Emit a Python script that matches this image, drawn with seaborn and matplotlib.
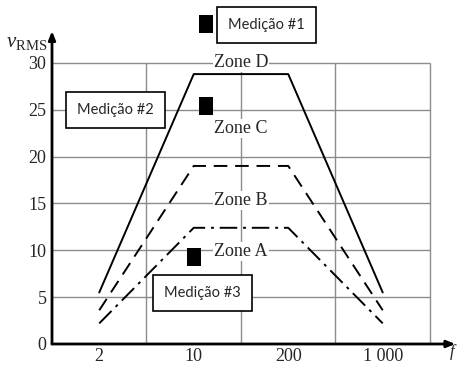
import numpy as np
import pandas as pd
import seaborn as sns
import matplotlib.pyplot as plt

# category positions on the (non-linear) frequency axis
freq_pos = [0.5, 1.5, 2.5, 3.5]
freq_labels = ["2", "10", "200", "1 000"]
grid_x = [1, 2, 3, 4]
grid_y = [5, 10, 15, 20, 25, 30]

# zone boundaries (v_RMS)
zone_cd = [5.5, 28.8, 28.8, 5.5]   # solid
zone_bc = [3.6, 19.0, 19.0, 3.6]   # dashed
zone_ab = [2.2, 12.4, 12.4, 2.2]   # dash-dot

zone_names = ["Zone D", "Zone C", "Zone B", "Zone A"]
zone_label_y = [29.6, 22.5, 14.8, 9.4]   # baselines

# measurements
meas_names = ["Medição #1", "Medição #2", "Medição #3"]
meas_x = [1.63, 1.63, 1.50]
meas_y = [34.1, 25.4, 9.3]
meas_box_x = [2.27, 0.67, 1.59]
meas_box_y = [34.0, 25.0, 5.4]

sns.set_style("white")
plt.rcParams["font.family"] = ["Liberation Serif", "DejaVu Serif"]
plt.rcParams["mathtext.fontset"] = "custom"
plt.rcParams["mathtext.rm"] = "Liberation Serif"
plt.rcParams["mathtext.it"] = "Liberation Serif:italic"

fig = plt.figure(figsize=(4.58, 3.67), dpi=100)
ax = fig.add_axes([52 / 458, 23 / 367, (455 - 52) / 458, (344 - 1) / 367])
ax.set_xlim(0, 4.265)
ax.set_ylim(0, 36.6)

grey = "#8c8c8c"
ax.hlines(grid_y, 0, grid_x[-1], color=grey, lw=1.0, zorder=1)
ax.vlines(grid_x, 0, grid_y[-1], color=grey, lw=1.0, zorder=1)

df = pd.DataFrame({"f": freq_pos, "cd": zone_cd, "bc": zone_bc, "ab": zone_ab})
sns.lineplot(data=df, x="f", y="cd", color="black", lw=1.4, sort=False, ax=ax, zorder=3)
sns.lineplot(data=df, x="f", y="bc", color="black", lw=1.4, sort=False, ax=ax, zorder=3,
             linestyle=(0, (7, 4)))
sns.lineplot(data=df, x="f", y="ab", color="black", lw=1.4, sort=False, ax=ax, zorder=3,
             linestyle=(0, (9, 3, 1.5, 3)))

for name, y in zip(zone_names, zone_label_y):
    ax.text(2.0, y, name, ha="center", va="baseline", fontsize=13, zorder=4,
            bbox=dict(facecolor="white", edgecolor="none", pad=0.8))

rect = [(-0.38, -0.5), (0.38, -0.5), (0.38, 0.5), (-0.38, 0.5)]
sns.scatterplot(x=meas_x, y=meas_y, marker=rect, s=170, color="black",
                edgecolor="none", ax=ax, zorder=5, clip_on=False)

for name, x, y in zip(meas_names, meas_box_x, meas_box_y):
    ax.text(x, y, name, ha="center", va="center", fontsize=10.5, family="Lato",
            zorder=6, bbox=dict(boxstyle="square,pad=0.75", facecolor="white",
                                edgecolor="black", lw=1.2))

# axes with arrows
for s in ax.spines.values():
    s.set_visible(False)
ax.annotate("", xy=(0, 33.4), xytext=(0, 0),
            arrowprops=dict(arrowstyle="-|>,head_length=0.5,head_width=0.2",
                            color="black", lw=2, shrinkA=0, shrinkB=0), zorder=7)
ax.annotate("", xy=(4.27, 0), xytext=(0, 0),
            arrowprops=dict(arrowstyle="-|>,head_length=0.5,head_width=0.2",
                            color="black", lw=2, shrinkA=0, shrinkB=0),
            annotation_clip=False, zorder=7)

ax.set_xticks(freq_pos, freq_labels)
ax.set_yticks([0] + grid_y)
ax.tick_params(length=0, labelsize=13, pad=4)
ax.tick_params(axis="x", pad=3)
ax.set_xlabel("")
ax.set_ylabel("")
ax.text(-0.27, 32.2, r"$v_{\mathrm{RMS}}$", ha="center", va="center", fontsize=15,
        clip_on=False)
ax.text(4.29, -0.9, "$f$", ha="right", va="center", fontsize=12, clip_on=False)

fig.savefig("out.png", dpi=100)
